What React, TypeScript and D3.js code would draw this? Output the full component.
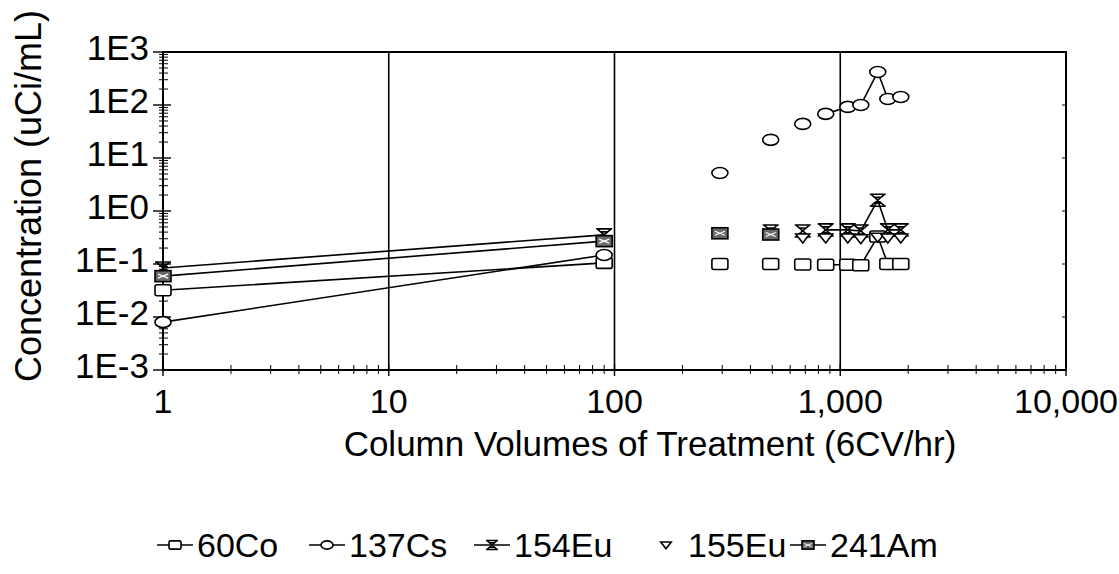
import React from "react";
import * as d3 from "d3";

// column volumes (x) and concentrations (uCi/mL); null breaks the line
const co60X = [1, 90, null, 293, null, 492, null, 682, null, 862, 1080, 1233, 1466, 1625, 1854];
const co60Y = [0.032, 0.105, null, 0.1, null, 0.1, null, 0.098, null, 0.097, 0.097, 0.095, 0.33, 0.1, 0.1];

const cs137X = [1, 90, null, 293, null, 492, null, 682, null, 862, 1080, 1233, 1466, 1625, 1854];
const cs137Y = [0.008, 0.148, null, 5.2, null, 22, null, 44, null, 68, 92, 100, 420, 130, 142];

const eu154X = [1, 90, null, 492, null, 682, null, 862, 1080, 1233, 1466, 1625, 1854];
const eu154Y = [0.084, 0.355, null, 0.42, null, 0.42, null, 0.44, 0.44, 0.42, 1.6, 0.44, 0.44];

const eu155X = [682, 862, 1080, 1233, 1466, 1625, 1854];
const eu155Y = [0.31, 0.31, 0.31, 0.3, 0.32, 0.31, 0.31];

const am241X = [1, 90, null, 293, null, 492];
const am241Y = [0.059, 0.27, null, 0.38, null, 0.36];

const xTicks = [1, 10, 100, 1000, 10000];
const xTickLabels = ["1", "10", "100", "1,000", "10,000"];
const yTicks = [1e-3, 1e-2, 1e-1, 1, 10, 100, 1000];
const yTickLabels = ["1E-3", "1E-2", "1E-1", "1E0", "1E1", "1E2", "1E3"];
const legendNames = ["60Co", "137Cs", "154Eu", "155Eu", "241Am"];

const W = 1119, H = 574;
const FONT = "'Liberation Sans', Arial, sans-serif";

const x = d3.scaleLog().domain([1, 10000]).range([163, 1066]);
const y = d3.scaleLog().domain([1e-3, 1e3]).range([370, 52]);

function minors(lo: number, hi: number) {
  const out: number[] = [];
  for (let d = lo; d < hi; d *= 10) for (let k = 2; k <= 9; k++) out.push(d * k);
  return out;
}

type Kind = "square" | "circle" | "hour" | "tri" | "filled";

function Marker({ kind, cx, cy, s = 1 }: { kind: Kind; cx: number; cy: number; s?: number }) {
  const t = `translate(${cx},${cy}) scale(${s})`;
  const st = { stroke: "#000", strokeWidth: 1.6 / s };
  if (kind === "square")
    return <rect transform={t} x={-8} y={-5.5} width={16} height={11} rx={2} fill="#fff" {...st} />;
  if (kind === "circle")
    return <ellipse transform={t} rx={8} ry={5.5} fill="#fff" {...st} />;
  if (kind === "filled")
    return (
      <g transform={t}>
        <rect x={-8} y={-5.5} width={16} height={11} fill="#6a6a6a" {...st} />
        <path d="M-5,-2 L5,2 M-5,2 L5,-2" stroke="#fff" strokeWidth={1.2} />
      </g>
    );
  if (kind === "hour")
    return (
      <path
        transform={t}
        d="M-8,-6 H8 M-8,6 H8 M-7,-6 L7,6 M7,-6 L-7,6 M-4,-3 H4 M-4,3 H4"
        fill="none"
        {...st}
      />
    );
  return <path transform={t} d="M-7,-4 L7,-4 L0,5 Z" fill="#fff" {...st} />;
}

function Series({ xs, ys, kind, line = true }: { xs: (number | null)[]; ys: (number | null)[]; kind: Kind; line?: boolean }) {
  const pts = xs.map((v, i) => [v, ys[i]] as [number | null, number | null]);
  const gen = d3
    .line<[number | null, number | null]>()
    .defined((d) => d[0] !== null && d[1] !== null)
    .x((d) => x(d[0] as number))
    .y((d) => y(d[1] as number));
  return (
    <g>
      {line && <path d={gen(pts) || ""} fill="none" stroke="#000" strokeWidth={1.6} />}
      {pts
        .filter((d) => d[0] !== null && d[1] !== null)
        .map((d, i) => (
          <Marker key={i} kind={kind} cx={x(d[0] as number)} cy={y(d[1] as number)} />
        ))}
    </g>
  );
}

export default function App() {
  const [x0, x1] = x.range();
  const [y0, y1] = y.range();
  const xMinor = minors(1, 10000);
  const yMinor = minors(1e-3, 1e3);
  const legendKinds: Kind[] = ["square", "circle", "hour", "tri", "filled"];
  const legendPos = [175, 327, 492, 666, 808];

  return (
    <svg width={W} height={H} style={{ position: "absolute", left: 0, top: 0, background: "#fff" }} fontFamily={FONT}>
      <rect width={W} height={H} fill="#fff" />
      {/* vertical grid */}
      {xTicks.slice(1, -1).map((t) => (
        <line key={t} x1={x(t)} x2={x(t)} y1={y1} y2={y0} stroke="#000" strokeWidth={1.6} />
      ))}
      {/* frame */}
      <rect x={x0} y={y1} width={x1 - x0} height={y0 - y1} fill="none" stroke="#000" strokeWidth={2} />

      {/* y ticks */}
      {yTicks.map((t) => (
        <line key={t} x1={x0 - 10} x2={x0 + 8} y1={y(t)} y2={y(t)} stroke="#000" strokeWidth={1.4} />
      ))}
      {yMinor.map((t) => (
        <line key={t} x1={x0 - 4} x2={x0 + 5} y1={y(t)} y2={y(t)} stroke="#000" strokeWidth={1} />
      ))}
      {yTicks.map((t) => (
        <line key={"r" + t} x1={x1 - 4} x2={x1} y1={y(t)} y2={y(t)} stroke="#000" strokeWidth={1} />
      ))}
      {yTicks.map((t, i) => (
        <text key={"l" + t} x={x0 - 14} y={y(t) + 8} textAnchor="end" fontSize={35} fill="#000">
          {yTickLabels[i]}
        </text>
      ))}

      {/* x ticks */}
      {xTicks.map((t) => (
        <line key={t} x1={x(t)} x2={x(t)} y1={y0 - 6} y2={y0 + 6} stroke="#000" strokeWidth={1.4} />
      ))}
      {xMinor.map((t) => (
        <line key={t} x1={x(t)} x2={x(t)} y1={y0 - 5} y2={y0 + 4} stroke="#000" strokeWidth={1} />
      ))}
      {xTicks.map((t, i) => (
        <text key={"l" + t} x={x(t)} y={413} textAnchor="middle" fontSize={34} fill="#000">
          {xTickLabels[i]}
        </text>
      ))}

      {/* axis titles */}
      <text x={650} y={456} textAnchor="middle" fontSize={35} fill="#000">
        Column Volumes of Treatment (6CV/hr)
      </text>
      <text transform="translate(41,196) rotate(-90)" textAnchor="middle" fontSize={36} fill="#000">
        Concentration (uCi/mL)
      </text>

      {/* data */}
      <Series xs={co60X} ys={co60Y} kind="square" />
      <Series xs={cs137X} ys={cs137Y} kind="circle" />
      <Series xs={eu154X} ys={eu154Y} kind="hour" />
      <Series xs={eu155X} ys={eu155Y} kind="tri" line={false} />
      <Series xs={am241X} ys={am241Y} kind="filled" />

      {/* legend */}
      {legendNames.map((n, i) => (
        <g key={n}>
          {legendKinds[i] !== "tri" && (
            <line x1={legendPos[i] - 18} x2={legendPos[i] + 18} y1={545} y2={545} stroke="#000" strokeWidth={1.4} />
          )}
          <Marker kind={legendKinds[i]} cx={legendPos[i]} cy={545} s={0.75} />
          <text x={legendPos[i] + 22} y={557} fontSize={34} fill="#000">
            {n}
          </text>
        </g>
      ))}
    </svg>
  );
}
